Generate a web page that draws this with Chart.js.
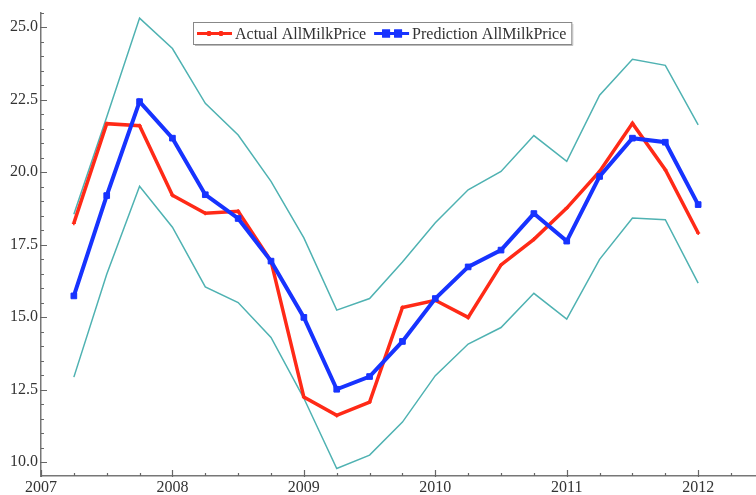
<!DOCTYPE html>
<html>
<head>
<meta charset="utf-8">
<title>AllMilkPrice</title>
<script src="https://cdn.jsdelivr.net/npm/chart.js@4/dist/chart.umd.min.js"></script>
<style>
    html, body { margin: 0; padding: 0; background: #fff; }
    #myChart { display: block; }
</style>
</head>
<body>
<canvas id="myChart" width="756" height="495"></canvas>
<script>
// quarterly observations
const quarters = [2007.25, 2007.5, 2007.75, 2008, 2008.25, 2008.5, 2008.75, 2009, 2009.25, 2009.5,
    2009.75, 2010, 2010.25, 2010.5, 2010.75, 2011, 2011.25, 2011.5, 2011.75, 2012];
const actual = [18.24, 21.67, 21.60, 19.20, 18.58, 18.65, 16.93, 12.24, 11.61, 12.07,
    15.33, 15.58, 14.99, 16.80, 17.68, 18.76, 20.02, 21.68, 20.08, 17.90];
const predicted = [15.73, 19.19, 22.43, 21.17, 19.22, 18.40, 16.93, 14.99, 12.51, 12.95,
    14.16, 15.64, 16.73, 17.31, 18.57, 17.62, 19.85, 21.17, 21.03, 18.88];
const upper = [18.55, 21.90, 25.31, 24.26, 22.37, 21.28, 19.68, 17.73, 15.24, 15.64,
    16.90, 18.25, 19.39, 20.02, 21.26, 20.37, 22.65, 23.89, 23.68, 21.63];
const lower = [12.93, 16.48, 19.51, 18.10, 16.04, 15.50, 14.30, 12.20, 9.78, 10.24,
    11.38, 12.98, 14.07, 14.64, 15.82, 14.93, 16.99, 18.42, 18.36, 16.17];

const FONT = '"Liberation Serif", "Times New Roman", serif';
const RED = '#ff2a17';
const BLUE = '#1733ff';
const TEAL = '#4fb2b2';

const toPoints = (vals) => vals.map((v, i) => ({ x: quarters[i], y: v }));

const data = {
    datasets: [
        {
            label: 'Prediction AllMilkPrice',
            data: toPoints(predicted),
            borderColor: BLUE,
            backgroundColor: BLUE,
            borderWidth: 4,
            pointStyle: 'rect',
            pointRadius: 4,
            pointBorderWidth: 1,
            order: 0,
        },
        {
            label: 'Actual AllMilkPrice',
            data: toPoints(actual),
            borderColor: RED,
            backgroundColor: RED,
            borderWidth: 3.5,
            pointStyle: 'cross',
            pointRadius: 2,
            pointBorderWidth: 1.5,
            order: 1,
        },
        {
            label: 'upper',
            data: toPoints(upper),
            borderColor: TEAL,
            borderWidth: 1.5,
            pointRadius: 0,
            order: 2,
        },
        {
            label: 'lower',
            data: toPoints(lower),
            borderColor: TEAL,
            borderWidth: 1.5,
            pointRadius: 0,
            order: 2,
        },
    ],
};

// small inward tick marks, majors on whole years / every 2.5
const axisTicks = {
    id: 'axisTicks',
    afterDraw(chart) {
        const { ctx, chartArea, scales: { x, y } } = chart;
        ctx.save();
        ctx.strokeStyle = '#666';
        ctx.lineWidth = 1.2;
        ctx.beginPath();
        for (let v = x.min; v <= x.max + 1e-9; v += 0.25) {
            const px = Math.round(x.getPixelForValue(v)) + 0.5;
            const major = Math.abs(v - Math.round(v)) < 1e-6;
            ctx.moveTo(px, chartArea.bottom + (major ? 1 : 0));
            ctx.lineTo(px, chartArea.bottom - (major ? 6 : 3));
        }
        for (let v = 10; v <= y.max + 1e-9; v += 0.5) {
            const py = Math.round(y.getPixelForValue(v)) + 0.5;
            const major = Math.abs(v / 2.5 - Math.round(v / 2.5)) < 1e-6;
            ctx.moveTo(chartArea.left - (major ? 1 : 0), py);
            ctx.lineTo(chartArea.left + (major ? 6 : 3), py);
        }
        ctx.stroke();
        ctx.restore();
    },
};

// boxed legend for the two main series
const boxLegend = {
    id: 'boxLegend',
    afterDraw(chart) {
        const { ctx } = chart;
        const items = [chart.data.datasets[1], chart.data.datasets[0]];
        ctx.save();
        ctx.font = '16px ' + FONT;
        const left = 193, top = 22, h = 22, sample = 35;
        let w = 4;
        items.forEach((ds) => { w += sample + 3 + ctx.measureText(ds.label).width + 8; });
        w -= 3;
        ctx.fillStyle = '#fff';
        ctx.fillRect(left, top, w, h);
        ctx.strokeStyle = '#888';
        ctx.lineWidth = 1;
        ctx.strokeRect(left + 0.5, top + 0.5, w, h);
        ctx.strokeStyle = '#bbb';
        ctx.beginPath();
        ctx.moveTo(left + w + 1.5, top + 2);
        ctx.lineTo(left + w + 1.5, top + h + 1.5);
        ctx.lineTo(left + 2, top + h + 1.5);
        ctx.stroke();

        const cy = top + h / 2 + 0.5;
        let cx = left + 4;
        items.forEach((ds) => {
            ctx.strokeStyle = ds.borderColor;
            ctx.lineWidth = 3;
            ctx.beginPath();
            ctx.moveTo(cx, cy);
            ctx.lineTo(cx + sample, cy);
            ctx.stroke();
            [cx + 12, cx + 24].forEach((mx) => {
                Chart.helpers.drawPoint(ctx, {
                    pointStyle: ds.pointStyle,
                    radius: ds.pointStyle === 'rect' ? 3.5 : 2.5,
                    borderWidth: ds.pointBorderWidth,
                    rotation: 0,
                }, mx, cy);
                ctx.fillStyle = ds.borderColor;
                ctx.fill();
                ctx.stroke();
            });
            cx += sample + 3;
            ctx.fillStyle = '#333';
            ctx.textBaseline = 'middle';
            ctx.fillText(ds.label, cx, cy + 1);
            cx += ctx.measureText(ds.label).width + 8;
        });
        ctx.restore();
    },
};

const tickFont = { family: FONT, size: 16 };

const config = {
    type: 'line',
    data,
    options: {
        responsive: false,
        devicePixelRatio: 1,
        animation: false,
        layout: { autoPadding: false, padding: { top: 10, right: 0, left: 0, bottom: 0 } },
        plugins: {
            legend: { display: false },
            tooltip: { enabled: false },
        },
        elements: { line: { tension: 0 } },
        scales: {
            x: {
                type: 'linear',
                min: 2007,
                max: 2012.44,
                grid: { drawOnChartArea: false, drawTicks: false },
                border: { color: '#777', width: 1.5 },
                ticks: {
                    stepSize: 1,
                    includeBounds: false,
                    maxRotation: 0,
                    padding: 2,
                    color: '#333',
                    font: tickFont,
                    callback: (v) => String(v),
                },
                afterFit: (s) => { s.height = 19; },
            },
            y: {
                min: 9.52,
                max: 25.5,
                grid: { drawOnChartArea: false, drawTicks: false },
                border: { color: '#777', width: 1.5 },
                ticks: {
                    stepSize: 2.5,
                    includeBounds: false,
                    padding: 3,
                    color: '#333',
                    font: tickFont,
                    callback: (v) => v.toFixed(1),
                },
                afterFit: (s) => { s.width = 41; },
            },
        },
    },
    plugins: [axisTicks, boxLegend],
};

const myChart = new Chart(document.getElementById('myChart'), config);
</script>
</body>
</html>
